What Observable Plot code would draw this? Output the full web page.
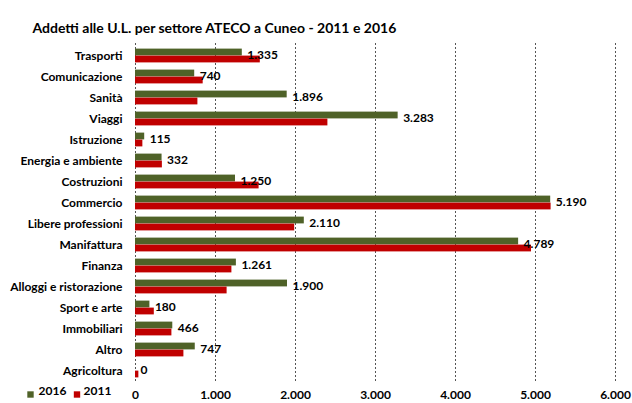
<!DOCTYPE html>
<html>
<head>
<meta charset="utf-8">
<script src="https://cdn.jsdelivr.net/npm/d3@7"></script>
<script src="https://cdn.jsdelivr.net/npm/@observablehq/plot@0.6"></script>
<style>
  html, body { margin: 0; padding: 0; background: #fff; }
  svg { font-family: Lato, "Open Sans", sans-serif; }
</style>
</head>
<body>
<div id="chart"></div>
<script>
const title = "Addetti alle U.L. per settore ATECO a Cuneo - 2011 e 2016";
const categories = ["Trasporti","Comunicazione","Sanità","Viaggi","Istruzione","Energia e ambiente","Costruzioni","Commercio","Libere professioni","Manifattura","Finanza","Alloggi e ristorazione","Sport e arte","Immobiliari","Altro","Agricoltura"];
const values2016 = [1335,740,1896,3283,115,332,1250,5190,2110,4789,1261,1900,180,466,747,0];
const values2011 = [1560,846,780,2405,92,336,1545,5195,1990,4950,1205,1145,235,455,605,42];
const xTicks = [0,1000,2000,3000,4000,5000,6000];
const seriesNames = ["2016","2011"];
const colors = ["#4F6228","#C00000"];

const fmt = d3.formatLocale({decimal: ",", thousands: ".", grouping: [3], currency: ["", "€"]}).format(",d");

const d16 = categories.map((c, i) => ({cat: c, v: values2016[i]}));
const d11 = categories.map((c, i) => ({cat: c, v: values2011[i]}));

const chart = Plot.plot({
  width: 632,
  height: 403,
  marginTop: 43,
  marginBottom: 20,
  marginLeft: 135,
  marginRight: 17,
  style: {fontFamily: "Lato, sans-serif", background: "#fff"},
  x: {domain: [0, 6000], ticks: xTicks, tickFormat: fmt, label: null},
  y: {domain: categories, padding: 0, label: null},
  marks: [
    Plot.ruleX(xTicks, {stroke: "#555", strokeDasharray: "2,2", strokeWidth: 1}),
    Plot.barX(d16, {x: "v", y: "cat", fill: colors[0], insetTop: 3.6, insetBottom: 10.6}),
    Plot.barX(d11, {x: "v", y: "cat", fill: colors[1], insetTop: 10.6, insetBottom: 3.6}),
    Plot.text(d16, {x: "v", y: "cat", text: d => fmt(d.v), textAnchor: "start", dx: 5, dy: -1, fontSize: 12, fontWeight: "bold", fill: "#000"}),
    Plot.axisY({tickSize: 0, tickPadding: 13, fontSize: 12, fontWeight: "bold", color: "#000"}),
    Plot.axisX({ticks: xTicks, tickFormat: fmt, tickSize: 0, tickPadding: 7, fontSize: 12, fontWeight: "bold", color: "#000"}),
    Plot.text([title], {frameAnchor: "top-left", dx: -103, dy: -20, textAnchor: "start", fontSize: 14, fontWeight: "bold", fill: "#000"}),
    Plot.dot([0], {frameAnchor: "bottom-left", dx: -105, dy: 11, symbol: "square", r: 3.6, fill: colors[0], stroke: null}),
    Plot.text([seriesNames[0]], {frameAnchor: "bottom-left", dx: -97, dy: 11, textAnchor: "start", fontSize: 12, fontWeight: "bold", fill: "#000"}),
    Plot.dot([0], {frameAnchor: "bottom-left", dx: -58.5, dy: 11, symbol: "square", r: 3.6, fill: colors[1], stroke: null}),
    Plot.text([seriesNames[1]], {frameAnchor: "bottom-left", dx: -52, dy: 11, textAnchor: "start", fontSize: 12, fontWeight: "bold", fill: "#000"})
  ]
});
document.getElementById("chart").appendChild(chart);
</script>
</body>
</html>
